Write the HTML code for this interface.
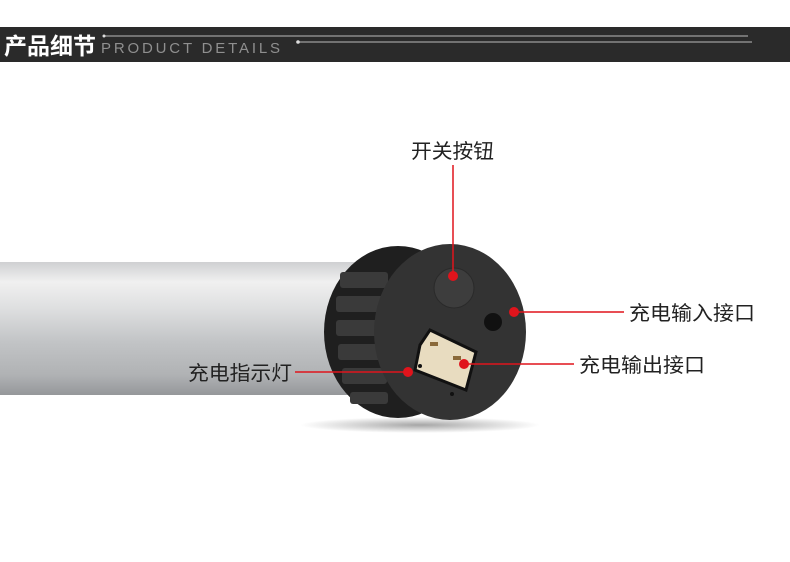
<!DOCTYPE html>
<html><head><meta charset="utf-8"><style>
html,body{margin:0;padding:0;background:#fff;width:790px;height:562px;overflow:hidden}
</style></head><body>
<svg width="790" height="562" xmlns="http://www.w3.org/2000/svg" font-family="Liberation Sans, Noto Sans CJK SC, sans-serif">
<defs>
<linearGradient id="tube" x1="0" y1="0" x2="0" y2="1">
<stop offset="0" stop-color="#cfd0d2"/><stop offset="0.15" stop-color="#f0f0f0"/><stop offset="0.35" stop-color="#dedfe0"/><stop offset="0.6" stop-color="#c2c4c6"/><stop offset="0.85" stop-color="#b0b2b4"/><stop offset="1" stop-color="#95979a"/>
</linearGradient>
<radialGradient id="sh" cx="0.5" cy="0.5" r="0.5"><stop offset="0" stop-color="#000" stop-opacity="0.35"/><stop offset="1" stop-color="#000" stop-opacity="0"/></radialGradient>
</defs>
<rect x="0" y="27" width="790" height="35" fill="#2a2a2a"/>
<text x="4" y="54" font-size="23" font-weight="bold" fill="#fff" textLength="92" lengthAdjust="spacingAndGlyphs">产品细节</text>
<text x="101" y="53" font-size="15" fill="#8f8f8f" font-weight="300" letter-spacing="2" textLength="181" lengthAdjust="spacing">PRODUCT  DETAILS</text>
<line x1="104" y1="36" x2="748" y2="36" stroke="#bbb" stroke-width="1"/>
<circle cx="104" cy="36" r="1.5" fill="#ddd"/>
<line x1="298" y1="42" x2="752" y2="42" stroke="#bbb" stroke-width="1"/>
<circle cx="298" cy="42" r="1.8" fill="#ddd"/>
<ellipse cx="420" cy="425" rx="120" ry="8" fill="url(#sh)"/>
<rect x="0" y="262" width="360" height="133" fill="url(#tube)"/>
<ellipse cx="398" cy="332" rx="74" ry="86" fill="#1f1f1f"/>
<g fill="#3a3a3a">
<rect x="340" y="272" width="48" height="16" rx="3"/><rect x="336" y="296" width="50" height="16" rx="3"/>
<rect x="336" y="320" width="50" height="16" rx="3"/><rect x="338" y="344" width="48" height="16" rx="3"/>
<rect x="342" y="368" width="45" height="16" rx="3"/><rect x="350" y="392" width="38" height="12" rx="3"/>
</g>
<ellipse cx="450" cy="332" rx="76" ry="88" fill="#333"/>
<circle cx="454" cy="288" r="20" fill="#3d3d3d" stroke="#2a2a2a"/>
<circle cx="493" cy="322" r="9" fill="#111"/>
<polygon points="420,345 430,330 476,352 466,390 415,370" fill="#e8dcc0" stroke="#111" stroke-width="3"/>
<rect x="430" y="342" width="8" height="4" fill="#8a6a3a"/><rect x="453" y="356" width="8" height="4" fill="#8a6a3a"/>
<circle cx="420" cy="366" r="2" fill="#111"/><circle cx="452" cy="394" r="2" fill="#111"/>
<g stroke="#e0141c" stroke-width="1.5" fill="none">
<line x1="453" y1="165" x2="453" y2="276"/>
<line x1="514" y1="312" x2="624" y2="312"/>
<line x1="464" y1="364" x2="574" y2="364"/>
<line x1="295" y1="372" x2="408" y2="372"/>
</g>
<g fill="#e0141c">
<circle cx="453" cy="276" r="5"/><circle cx="514" cy="312" r="5"/><circle cx="464" cy="364" r="5"/><circle cx="408" cy="372" r="5"/>
</g>
<g font-size="20" fill="#222">
<text x="411" y="158" textLength="83" lengthAdjust="spacingAndGlyphs">开关按钮</text>
<text x="629" y="320" textLength="126" lengthAdjust="spacingAndGlyphs">充电输入接口</text>
<text x="579" y="372" textLength="126" lengthAdjust="spacingAndGlyphs">充电输出接口</text>
<text x="188" y="380" textLength="104" lengthAdjust="spacingAndGlyphs">充电指示灯</text>
</g>
</svg>
</body></html>
